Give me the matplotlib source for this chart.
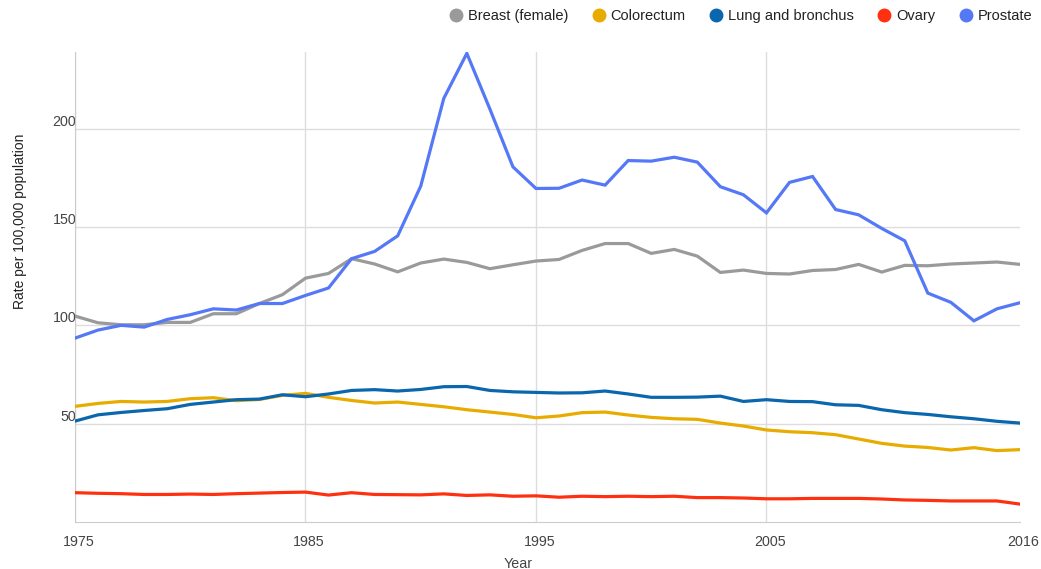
import numpy as np
import matplotlib.pyplot as plt
import matplotlib.transforms as mtransforms
from matplotlib.lines import Line2D

plt.rcParams['font.family'] = ['Liberation Sans', 'DejaVu Sans']

years = list(range(1975, 2017))

breast = [104.7, 101.3, 100.3, 100.3, 101.5, 101.5, 105.9, 105.9, 111.1, 115.6,
          124.0, 126.4, 133.9, 131.2, 127.2, 131.7, 133.7, 132.0, 128.8, 130.8,
          132.7, 133.5, 138.1, 141.6, 141.6, 136.6, 138.6, 135.2, 126.9, 128.1,
          126.4, 126.1, 127.9, 128.4, 131.0, 127.1, 130.5, 130.3, 131.2, 131.7,
          132.2, 131.0]
colorectum = [58.8, 60.3, 61.3, 61.0, 61.3, 62.7, 63.2, 61.7, 62.3, 64.4,
              65.4, 63.4, 61.8, 60.5, 61.0, 59.8, 58.6, 57.1, 55.9, 54.7,
              53.0, 53.9, 55.6, 55.9, 54.4, 53.2, 52.5, 52.2, 50.3, 48.8,
              46.8, 45.9, 45.4, 44.4, 42.2, 40.0, 38.6, 37.9, 36.6, 37.8,
              36.3, 36.8]
lung = [51.3, 54.5, 55.7, 56.7, 57.6, 59.8, 61.0, 62.2, 62.5, 64.7,
        63.7, 65.1, 66.9, 67.3, 66.6, 67.4, 68.8, 68.9, 66.9, 66.2,
        65.9, 65.6, 65.7, 66.6, 65.1, 63.4, 63.4, 63.5, 64.0, 61.3,
        62.2, 61.3, 61.2, 59.6, 59.3, 57.1, 55.6, 54.7, 53.5, 52.5,
        51.2, 50.3]
ovary = [14.9, 14.6, 14.4, 14.0, 14.0, 14.2, 14.0, 14.4, 14.7, 15.0,
         15.2, 13.7, 14.9, 14.0, 13.9, 13.8, 14.3, 13.5, 13.8, 13.1,
         13.3, 12.6, 13.1, 12.9, 13.1, 12.9, 13.1, 12.4, 12.4, 12.2,
         11.8, 11.8, 12.0, 12.0, 12.0, 11.7, 11.2, 11.0, 10.7, 10.7,
         10.7, 9.1]
prostate = [93.5, 97.6, 100.0, 99.1, 103.0, 105.4, 108.4, 107.8, 111.1, 111.1,
            115.2, 119.0, 133.9, 137.6, 145.5, 170.8, 215.4, 238.3, 210.0, 180.6,
            169.6, 169.7, 173.9, 171.3, 183.8, 183.5, 185.5, 183.0, 170.5, 166.4,
            157.2, 172.7, 175.7, 158.9, 156.2, 149.3, 143.0, 116.4, 111.7, 102.3,
            108.4, 111.5]

series = [('Breast (female)', breast, '#9a9a9a'),
          ('Colorectum', colorectum, '#e8ac00'),
          ('Lung and bronchus', lung, '#0a67ad'),
          ('Ovary', ovary, '#ff3010'),
          ('Prostate', prostate, '#5578f7')]

fig = plt.figure(figsize=(10.41, 5.69), dpi=100)
ax = fig.add_axes([75/1041, 47/569, 945/1041, 470/569])

for name, vals, col in series:
    ax.plot(years, vals, color=col, lw=2.3, solid_joinstyle='miter', zorder=3)

ax.set_xlim(1975, 2016)
ax.set_ylim(0, 239)
ax.set_yticks([50, 100, 150, 200])
ax.set_xticks([1975, 1985, 1995, 2005, 2016])
ax.grid(True, color='#dddddd', lw=1)
ax.get_xgridlines()[-1].set_visible(False)
ax.set_axisbelow(True)
for s in ['top', 'right']:
    ax.spines[s].set_visible(False)
for s in ['left', 'bottom']:
    ax.spines[s].set_color('#cccccc')
ax.tick_params(length=0, labelsize=10.3, labelcolor='#444444')
ax.tick_params(axis='x', pad=9)
ax.tick_params(axis='y', pad=-1)
for lab in ax.get_yticklabels():
    lab.set_verticalalignment('bottom')
shift = mtransforms.ScaledTranslation(0.035, 0, fig.dpi_scale_trans)
for lab in ax.get_xticklabels():
    lab.set_transform(lab.get_transform() + shift)

ax.set_xlabel('Year', fontsize=10.3, color='#444444')
ax.set_ylabel('Rate per 100,000 population', fontsize=10, color='#222222')
ax.xaxis.set_label_coords(0.469, -0.074)
ax.yaxis.set_label_coords(-0.051, 0.64)

handles = [Line2D([], [], marker='o', ls='none', ms=9, color=c) for _, _, c in series]
fig.legend(handles, [n for n, _, _ in series], loc='center right',
           bbox_to_anchor=(1032/1041, 1 - 16/569), ncol=5, frameon=False,
           fontsize=10.5, handlelength=1.0, handletextpad=0.3, columnspacing=1.6,
           borderpad=0, borderaxespad=0, labelcolor='#222222')

fig.savefig('out.png', dpi=100)
